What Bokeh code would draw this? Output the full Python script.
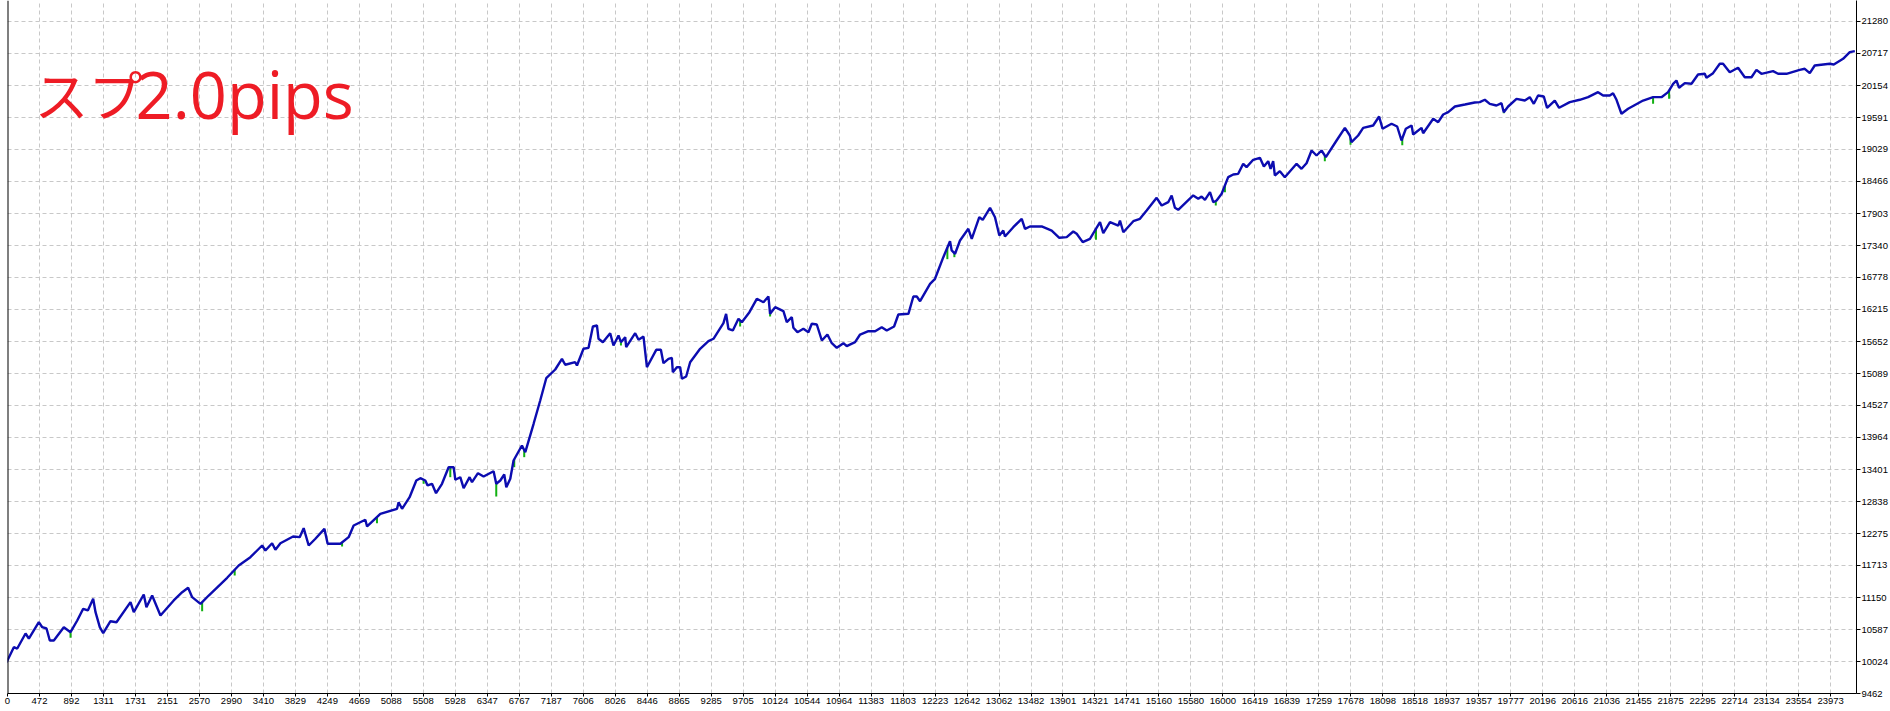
import numpy as np
from bokeh.plotting import figure
from bokeh.models import Range1d, FixedTicker, Label, Span
from bokeh.embed import file_html
from bokeh.resources import INLINE

# ---------------- data ----------------
title_katakana = "スプ"
title_latin = "2.0pips"

x_tick_labels = ["0", "472", "892", "1311", "1731", "2151", "2570", "2990", "3410", "3829",
                 "4249", "4669", "5088", "5508", "5928", "6347", "6767", "7187", "7606", "8026",
                 "8446", "8865", "9285", "9705", "10124", "10544", "10964", "11383", "11803", "12223",
                 "12642", "13062", "13482", "13901", "14321", "14741", "15160", "15580", "16000", "16419",
                 "16839", "17259", "17678", "18098", "18518", "18937", "19357", "19777", "20196", "20616",
                 "21036", "21455", "21875", "22295", "22714", "23134", "23554", "23973"]

y_tick_values = [9462, 10024, 10587, 11150, 11713, 12275, 12838, 13401, 13964, 14527, 15089,
                 15652, 16215, 16778, 17340, 17903, 18466, 19029, 19591, 20154, 20717, 21280]

trades = [0, 40, 135, 180, 289, 332, 463, 508, 564, 607, 660, 791, 879, 967, 1045, 1106, 1176, 1207,
          1263, 1308, 1403, 1482, 1666, 1709, 1840, 1875, 1950, 2059, 2233, 2344, 2422, 2475, 2584,
          2692, 2934, 3086, 3239, 3393, 3436, 3524, 3567, 3633, 3799, 3886, 3938, 4004, 4092, 4210,
          4253, 4420, 4528, 4594, 4747, 4770, 4944, 5163, 5184, 5229, 5328, 5416, 5469, 5534, 5564,
          5622, 5675, 5753, 5840, 5906, 5928, 5993, 6037, 6115, 6147, 6225, 6299, 6430, 6465, 6518,
          6570, 6597, 6649, 6692, 6802, 6846, 6955, 7042, 7121, 7239, 7327, 7370, 7501, 7524, 7610,
          7676, 7733, 7786, 7807, 7864, 7960, 8003, 8069, 8101, 8157, 8170, 8288, 8332, 8397, 8442,
          8564, 8625, 8659, 8725, 8769, 8782, 8835, 8878, 8901, 8957, 9009, 9140, 9249, 9315, 9446,
          9481, 9511, 9569, 9643, 9687, 9787, 9884, 9971, 10036, 10058, 10124, 10233, 10277, 10343,
          10364, 10417, 10495, 10561, 10605, 10671, 10737, 10810, 10868, 10933, 11020, 11064, 11173,
          11239, 11348, 11436, 11523, 11589, 11685, 11741, 11873, 11938, 11983, 12026, 12157, 12222,
          12331, 12419, 12441, 12485, 12550, 12659, 12704, 12803, 12848, 12944, 13009, 13066, 13118,
          13140, 13249, 13360, 13403, 13468, 13622, 13753, 13853, 13950, 14036, 14081, 14160, 14255,
          14308, 14387, 14430, 14518, 14627, 14649, 14693, 14824, 14911, 14999, 15130, 15196, 15282,
          15327, 15370, 15413, 15610, 15676, 15720, 15764, 15830, 15873, 15917, 15983, 16069, 16135,
          16200, 16266, 16310, 16397, 16485, 16537, 16594, 16625, 16659, 16681, 16747, 16812, 16966,
          17031, 17097, 17163, 17228, 17294, 17350, 17491, 17600, 17665, 17687, 17774, 17840, 17971,
          18049, 18094, 18212, 18286, 18343, 18400, 18475, 18496, 18606, 18627, 18759, 18824, 18890,
          18956, 19044, 19175, 19304, 19370, 19436, 19501, 19589, 19655, 19685, 19742, 19852, 19961,
          20026, 20079, 20135, 20210, 20253, 20354, 20411, 20551, 20682, 20791, 20922, 20988, 21076,
          21119, 21164, 21229, 21316, 21513, 21644, 21754, 21841, 21907, 21950, 21985, 22060, 22148,
          22234, 22322, 22344, 22431, 22519, 22562, 22650, 22759, 22847, 22935, 23000, 23066, 23218,
          23284, 23394, 23568, 23634, 23700, 23765, 23962, 24015, 24137, 24225, 24291]

balance = [10010, 10010, 10276, 10253, 10517, 10429, 10716, 10628, 10605, 10394, 10394, 10628, 10540,
           10746, 10952, 10922, 11127, 10892, 10628, 10522, 10733, 10716, 11068, 10892, 11203, 10980,
           11185, 10834, 11098, 11244, 11321, 11156, 11039, 11185, 11497, 11713, 11859, 12065, 11977,
           12105, 11989, 12105, 12223, 12211, 12369, 12065, 12183, 12358, 12095, 12095, 12211, 12416,
           12517, 12399, 12622, 12710, 12826, 12710, 12914, 13208, 13248, 13208, 13120, 13150, 12984,
           13150, 13442, 13442, 13220, 13266, 13072, 13266, 13178, 13336, 13278, 13371, 13150, 13208,
           13313, 13090, 13238, 13560, 13823, 13706, 14205, 14615, 15007, 15160, 15348, 15243, 15288,
           15230, 15524, 15541, 15916, 15934, 15700, 15640, 15798, 15582, 15758, 15640, 15728, 15552,
           15798, 15682, 15740, 15200, 15506, 15506, 15271, 15348, 15366, 15112, 15200, 15200, 14996,
           15037, 15288, 15524, 15658, 15700, 15974, 16139, 15876, 15846, 16052, 15992, 16168, 16403,
           16343, 16444, 16139, 16256, 16185, 15992, 16080, 15893, 15816, 15876, 15816, 15964, 15951,
           15670, 15775, 15622, 15541, 15622, 15570, 15640, 15775, 15833, 15833, 15904, 15846, 15916,
           16127, 16139, 16444, 16444, 16361, 16667, 16755, 17135, 17416, 17253, 17195, 17428, 17634,
           17458, 17838, 17793, 18004, 17838, 17516, 17604, 17499, 17662, 17810, 17634, 17675, 17675,
           17604, 17476, 17487, 17587, 17546, 17399, 17458, 17574, 17750, 17557, 17750, 17692, 17780,
           17574, 17768, 17810, 17956, 18179, 18044, 18102, 18220, 18004, 17968, 18220, 18162, 18202,
           18144, 18278, 18102, 18132, 18250, 18542, 18589, 18601, 18777, 18718, 18848, 18883, 18730,
           18823, 18689, 18823, 18572, 18647, 18542, 18777, 18689, 18788, 19011, 18923, 19011, 18893,
           19187, 19410, 19275, 19157, 19275, 19410, 19451, 19609, 19393, 19481, 19433, 19187, 19393,
           19451, 19293, 19410, 19315, 19569, 19509, 19644, 19685, 19785, 19820, 19855, 19861, 19903,
           19832, 19803, 19843, 19685, 19785, 19920, 19890, 19949, 19832, 19978, 19961, 19762, 19890,
           19762, 19861, 19903, 19949, 20037, 19978, 19978, 20019, 19903, 19657, 19745, 19890, 19949,
           19949, 20037, 20184, 20242, 20114, 20195, 20184, 20348, 20360, 20290, 20371, 20536, 20536,
           20388, 20466, 20300, 20300, 20430, 20360, 20406, 20360, 20360, 20430, 20448, 20371, 20506,
           20536, 20524, 20624, 20740, 20758]

# equity dips (green) below the balance line
dip_trades = [879, 2606, 3033, 4442, 4900, 5512, 5862, 6465, 6701, 6832, 8101, 9665, 10058, 12384,
              12476, 14334, 15906, 16026, 17337, 17674, 18353, 19685, 21644, 21854]
dip_lows = [10441, 10909, 11537, 12047, 12457, 13150, 13266, 12926, 13442, 13618, 15582, 15916, 16092,
            17100, 17135, 17441, 18044, 18278, 18823, 19111, 19104, 19668, 19832, 19920]

# ---------------- ranges / ticks ----------------
x_label_values = [int(s) for s in x_tick_labels]
step = (x_label_values[-1] - x_label_values[1]) / (len(x_label_values) - 2)
x_first = int(round(x_label_values[1] - step))
x_ticks = [x_first] + x_label_values[1:]
X_MAX = 24313
Y_MIN = y_tick_values[0]
Y_MAX = 21649

dip_tops = list(np.interp(dip_trades, trades, balance))

W, H = 1890, 711
p = figure(width=W, height=H,
           x_range=Range1d(x_first, X_MAX), y_range=Range1d(Y_MIN, Y_MAX),
           y_axis_location="right", output_backend="svg", toolbar_location=None,
           min_border_left=7, min_border_top=0, min_border_right=33, min_border_bottom=18)
p.outline_line_color = None
p.background_fill_color = "white"
p.border_fill_color = "white"

AX_FONT = "Liberation Sans"
AX_SIZE = "9.5px"

p.xaxis.ticker = FixedTicker(ticks=x_ticks)
p.xaxis.major_label_overrides = {x_first: x_tick_labels[0]}
p.xaxis.major_label_text_align = "right"
p.yaxis.ticker = FixedTicker(ticks=y_tick_values)

for ax in (p.xaxis, p.yaxis):
    ax.major_label_text_font = AX_FONT
    ax.major_label_text_font_size = AX_SIZE
    ax.major_label_text_color = "black"
    ax.axis_line_color = "black"
    ax.axis_line_width = 1
    ax.major_tick_line_color = "black"
    ax.major_tick_in = 0
    ax.minor_tick_in = 0
    ax.minor_tick_out = 0
    ax.major_label_standoff = 1
p.xaxis.major_tick_out = 3
p.yaxis.major_tick_out = 4

for g in (p.xgrid, p.ygrid):
    g.grid_line_color = "#c8c8c8"
    g.grid_line_dash = "4 3"
    g.grid_line_width = 1

# left border line of the chart area
p.add_layout(Span(location=x_first, dimension="height", line_color="black", line_width=2))

# equity dips then balance line
p.segment(x0=dip_trades, y0=dip_tops, x1=dip_trades, y1=dip_lows, line_color="#12b012", line_width=2)
p.line(trades, balance, line_color="#0c0cb0", line_width=2.4)

# title (screen units relative to the plot frame)
p.add_layout(Label(x=27, y=600, x_units="screen", y_units="screen", text=title_katakana,
                   text_font="Noto Sans CJK JP", text_font_size="54px", text_color="#ee1c25",
                   text_baseline="alphabetic", text_align="left"))
p.add_layout(Label(x=128, y=600, x_units="screen", y_units="screen", text=title_latin,
                   text_font="Open Sans", text_font_size="65px", text_color="#ee1c25",
                   text_baseline="alphabetic", text_align="left"))

open("out.html", "w").write(file_html(p, INLINE))
